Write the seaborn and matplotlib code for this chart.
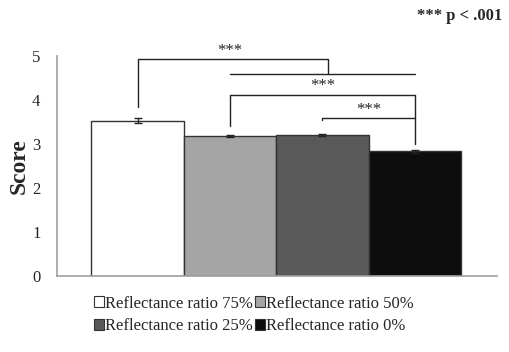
import pandas as pd
import seaborn as sns
import matplotlib.pyplot as plt
from matplotlib.patches import Patch

conditions = ["Reflectance ratio 75%", "Reflectance ratio 50%",
              "Reflectance ratio 25%", "Reflectance ratio 0%"]
scores = [3.53, 3.18, 3.21, 2.83]
errors = [0.05, 0.02, 0.02, 0.04]
bar_colors = ["#ffffff", "#a5a5a5", "#595959", "#0d0d0d"]

sig_label = "***"

sns.set_theme(style="white")
plt.rcParams["font.family"] = ["Liberation Serif", "DejaVu Serif"]

df = pd.DataFrame({"condition": conditions, "score": scores})

fig = plt.figure(figsize=(5.1, 3.52), dpi=100)
ax = fig.add_axes([0.112, 0.216, 0.863, 0.625])

sns.barplot(
    ax=ax,
    data=df,
    x="condition",
    y="score",
    hue="condition",
    palette=bar_colors,
    width=1.0,
    edgecolor="#333333",
    linewidth=1.0,
    legend=False,
    errorbar=None,
)
ax.errorbar(range(len(scores)), scores, yerr=errors, fmt="none",
            ecolor="#222222", elinewidth=1, capsize=3, capthick=1)

ax.set_xlim(-0.87, 3.89)
ax.set_ylim(0, 5)
ax.set_yticks(range(6))
ax.set_xticks([])
ax.set_xlabel("")
ax.set_ylabel("Score", fontsize=17, fontweight="bold", labelpad=2)
ax.tick_params(axis="y", length=0, pad=12, labelsize=12)
for s in ["top", "right"]:
    ax.spines[s].set_visible(False)
for s in ["left", "bottom"]:
    ax.spines[s].set_color("#a0a0a0")
    ax.spines[s].set_linewidth(1.2)

lc = "#222222"
kw = dict(color=lc, lw=1, clip_on=False)
star_kw = dict(ha="center", va="center", fontsize=12, clip_on=False)
# 75% vs (50%, 25%, 0%)
ax.plot([0, 0, 2.06, 2.06], [3.84, 4.93, 4.93, 4.59], **kw)
ax.plot([1, 3], [4.59, 4.59], **kw)
ax.text(1.0, 5.12, sig_label, **star_kw)
# 50% vs 0%
ax.plot([1, 1, 3, 3], [3.41, 4.11, 4.11, 3.0], **kw)
ax.text(2.0, 4.32, sig_label, **star_kw)
# 25% vs 0%
ax.plot([2, 2, 3], [3.55, 3.59, 3.59], **kw)
ax.text(2.5, 3.78, sig_label, **star_kw)

fig.text(0.985, 0.955, "*** p < .001", ha="right", va="center",
         fontsize=12, fontweight="bold")

# legend reads row by row, so order handles for matplotlib's column fill
handles = [Patch(facecolor=c, edgecolor="#333333", linewidth=0.8) for c in bar_colors]
order = [0, 2, 1, 3]
fig.legend([handles[i] for i in order], [conditions[i] for i in order],
           ncol=2, loc="upper left",
           bbox_to_anchor=(0.168, 0.184), frameon=False,
           prop={"family": "Liberation Serif", "size": 12},
           handlelength=0.6, handleheight=0.6, handletextpad=0.05,
           columnspacing=0.15, labelspacing=0.4, borderpad=0)

plt.savefig("out.png", dpi=100)
plt.close()
